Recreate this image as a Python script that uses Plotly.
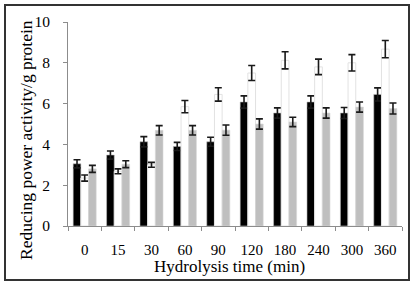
import plotly.graph_objects as go

categories = ["0", "15", "30", "60", "90", "120", "180", "240", "300", "360"]
black_vals = [3.05, 3.48, 4.13, 3.9, 4.13, 6.08, 5.54, 6.08, 5.54, 6.45]
black_err = [0.2, 0.2, 0.25, 0.2, 0.22, 0.3, 0.25, 0.3, 0.27, 0.32]
white_vals = [2.35, 2.68, 3.0, 5.85, 6.45, 7.5, 8.12, 7.8, 8.0, 8.67]
white_err = [0.15, 0.12, 0.12, 0.3, 0.33, 0.37, 0.42, 0.38, 0.4, 0.42]
gray_vals = [2.8, 3.03, 4.69, 4.69, 4.7, 5.0, 5.1, 5.54, 5.83, 5.76]
gray_err = [0.17, 0.17, 0.23, 0.23, 0.25, 0.25, 0.23, 0.25, 0.25, 0.27]
y_ticks = [0, 2, 4, 6, 8, 10]

FONT = "Liberation Serif"

def eb(arr):
    return dict(type="data", array=arr, visible=True, color="#1a1a1a", thickness=1.6, width=3.5)

fig = go.Figure()
fig.add_trace(go.Bar(x=categories, y=black_vals, error_y=eb(black_err),
                     marker=dict(color="#000000", line=dict(color="#bdbdbd", width=0.6))))
fig.add_trace(go.Bar(x=categories, y=white_vals, error_y=eb(white_err),
                     marker=dict(color="#ffffff", line=dict(color="#e2e2e2", width=1))))
fig.add_trace(go.Bar(x=categories, y=gray_vals, error_y=eb(gray_err),
                     marker=dict(color="#bfbfbf", line=dict(color="#d8d8d8", width=0.6))))

L, R, T, B = 68, 9, 22, 57
W, H = 411, 283
pw, ph = W - L - R, H - T - B

def px(x):
    return (x - L) / pw

def py(y):
    return (H - B - y) / ph

fig.update_layout(
    width=W, height=H,
    margin=dict(l=L, r=R, t=T, b=B),
    paper_bgcolor="white", plot_bgcolor="white",
    barmode="group", bargap=0.31, bargroupgap=0,
    showlegend=False,
    font=dict(family=FONT, size=15, color="#000000"),
    xaxis=dict(type="category", showline=True, linecolor="#8c8c8c", linewidth=1,
               ticks="outside", tickson="boundaries", ticklen=4, tickcolor="#8c8c8c",
               tickfont=dict(family=FONT, size=15, color="#000"), showgrid=False,
               ticklabelstandoff=10),
    yaxis=dict(range=[0, 10], tickvals=y_ticks, showline=True, linecolor="#8c8c8c",
               linewidth=1, ticks="outside", ticklen=4, tickcolor="#8c8c8c",
               tickfont=dict(family=FONT, size=15.5, color="#000"), showgrid=False,
               zeroline=False, ticklabelstandoff=10),
    shapes=[dict(type="rect", xref="paper", yref="paper",
                 x0=px(5), x1=px(409), y0=py(5), y1=py(280),
                 line=dict(color="#333333", width=2), fillcolor="rgba(0,0,0,0)", layer="above")],
    annotations=[
        dict(text="Reducing power activity/g protein", xref="paper", yref="paper",
             x=px(26), y=py(140), textangle=-90, showarrow=False,
             xanchor="center", yanchor="middle", font=dict(family=FONT, size=17.5)),
        dict(text="Hydrolysis time (min)", xref="paper", yref="paper",
             x=px(229), y=py(266.5), showarrow=False,
             xanchor="center", yanchor="middle", font=dict(family=FONT, size=17)),
    ],
)

fig.write_html("out.html", config={"displayModeBar": False},
               post_script="document.body.style.margin='0px';document.body.style.overflow='hidden';")
